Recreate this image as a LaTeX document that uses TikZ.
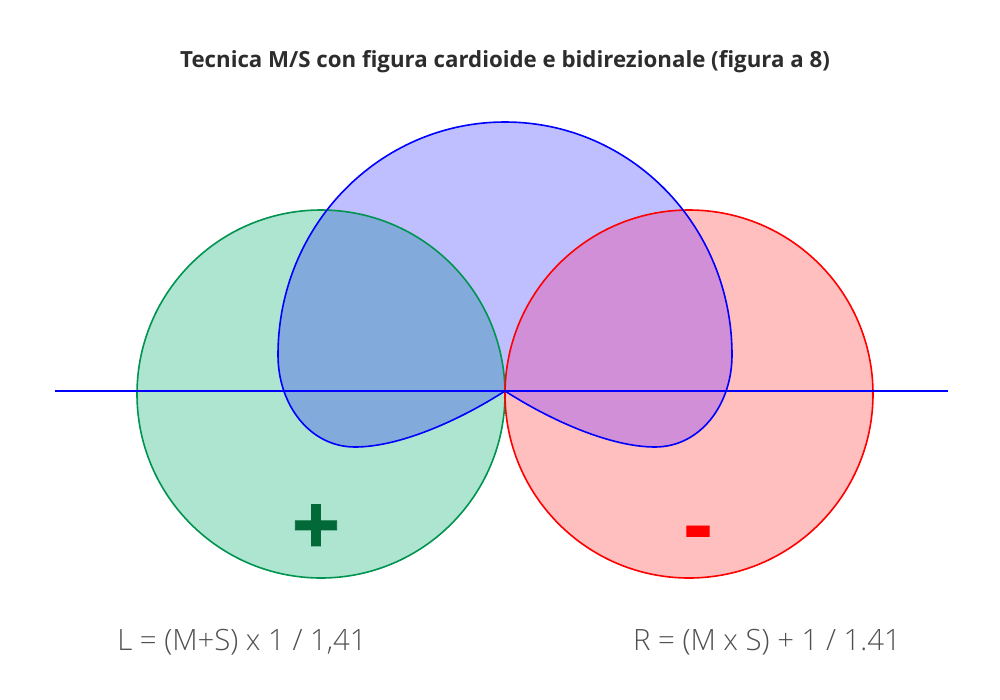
\documentclass[tikz,border=0pt]{standalone}
\usepackage{fontspec}
\setmainfont{Open Sans}
\newfontfamily\lightfont{Open Sans Light}
\definecolor{lobegreen}{RGB}{0,148,80}
\definecolor{lobefill}{RGB}{174,229,209}
\definecolor{plusgreen}{RGB}{0,105,55}
\definecolor{overlapred}{RGB}{208,143,214}
\definecolor{titlegray}{RGB}{45,45,45}
\definecolor{textgray}{RGB}{80,80,80}
\tikzset{
	lobeline/.style={line width=1.2pt},
	axisline/.style={draw=blue,line width=0.8pt},
	eqlabel/.style={text=textgray,font=\lightfont\fontsize{22}{26}\selectfont},
	signlabel/.style={font=\bfseries\addfontfeature{FakeBold=1}\fontsize{64}{64}\selectfont}
}
\newcommand{\cardioidpath}{(505,391)
		.. controls (460,420) and (400,447) .. (355,447)
		.. controls (310,447) and (278,405) .. (278,355)
		.. controls (278,225) and (380,122) .. (505,122)
		.. controls (630,122) and (732,225) .. (732,355)
		.. controls (732,405) and (700,447) .. (655,447)
		.. controls (610,447) and (550,420) .. (505,391) -- cycle}
\begin{document}
\begin{tikzpicture}[x=0.75pt,y=-0.75pt]
	\useasboundingbox (0,0) rectangle (1000,700);
	\fill[white] (0,0) rectangle (1000,700);
	\fill[lobefill] (321,394) circle[radius=184];
	\fill[red,fill opacity=0.25] (689,394) circle[radius=184];
	\fill[blue,fill opacity=0.25] \cardioidpath;
	\begin{scope}
		\clip (689,394) circle[radius=184];
		\fill[overlapred] \cardioidpath;
	\end{scope}
	\coordinate (left end) at (55,391);
	\coordinate (right end) at (948,391);
	\draw[lobegreen,lobeline] (321,394) circle[radius=184];
	\draw[red,lobeline] (689,394) circle[radius=184];
	\draw[blue,lobeline] \cardioidpath;
	\draw[axisline] (left end)--(right end);
	\node[text=titlegray,font=\bfseries\fontsize{16.7}{20}\selectfont] (title) at (505,62) {Tecnica M/S con figura cardioide e bidirezionale (figura a 8)};
	\node[signlabel,text=plusgreen] (plus) at (316,530) {+};
	\node[signlabel,text=red] (minus) at (698,540) {-};
	\node[eqlabel] (left eq) at (242,642) {L = (M+S) x 1 / 1,41};
	\node[eqlabel] (right eq) at (767,642) {R = (M x S) + 1 / 1.41};
\end{tikzpicture}
\end{document}
